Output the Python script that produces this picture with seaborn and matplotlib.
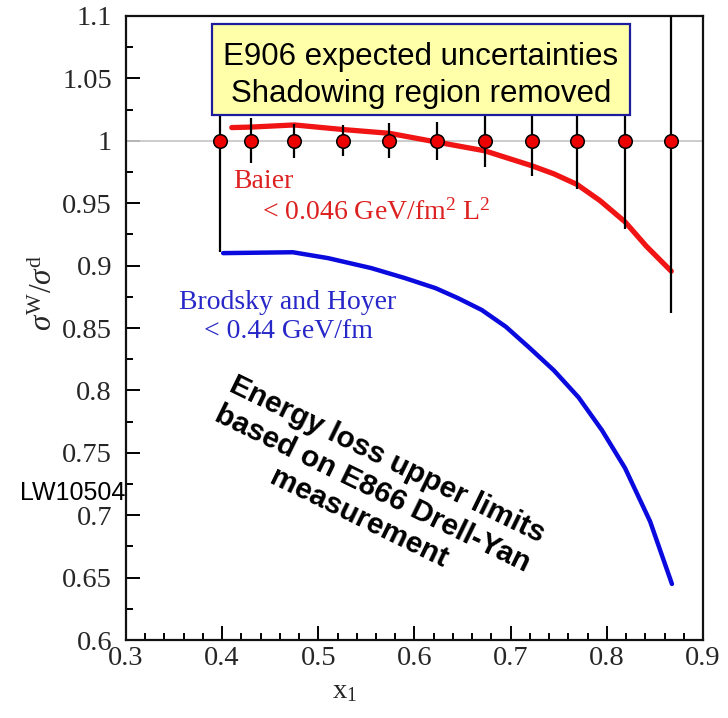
import matplotlib
matplotlib.use('Agg')
import matplotlib.pyplot as plt
import seaborn as sns
import pandas as pd
from matplotlib.ticker import MultipleLocator, FuncFormatter
from matplotlib.patches import Rectangle

# ---- data ----
x_points = [0.398, 0.430, 0.475, 0.526, 0.574, 0.623, 0.673, 0.7225, 0.769, 0.819, 0.867]
ratio_points = [1.0, 1.0, 1.0, 1.0, 1.0, 1.0, 1.0, 1.0, 1.0, 1.0, 1.0]
uncertainties = [0.089, 0.018, 0.0134, 0.0124, 0.014, 0.015, 0.021, 0.028, 0.039, 0.071, 0.138]

baier_x = [0.41, 0.43, 0.475, 0.526, 0.574, 0.623, 0.673, 0.722, 0.745, 0.769, 0.793, 0.819, 0.841, 0.867]
baier_y = [1.0106, 1.011, 1.0127, 1.009, 1.006, 0.999, 0.992, 0.980, 0.9735, 0.965, 0.952, 0.935, 0.9156, 0.8955]

bh_x = [0.401, 0.4735, 0.51, 0.555, 0.59, 0.622, 0.645, 0.670, 0.695, 0.7186, 0.745, 0.7706, 0.795, 0.8189, 0.845, 0.8677]
bh_y = [0.910, 0.9107, 0.906, 0.898, 0.890, 0.8819, 0.874, 0.8644, 0.851, 0.8348, 0.816, 0.7944, 0.768, 0.7378, 0.695, 0.6449]

x_ticks = [0.3, 0.4, 0.5, 0.6, 0.7, 0.8, 0.9]
y_ticks = [0.6, 0.65, 0.7, 0.75, 0.8, 0.85, 0.9, 0.95, 1.0, 1.05, 1.1]

sns.set_theme(style='white')
plt.rcParams['font.family'] = ['Liberation Serif', 'DejaVu Serif']
plt.rcParams['mathtext.fontset'] = 'custom'
plt.rcParams['mathtext.rm'] = 'Liberation Serif'
plt.rcParams['mathtext.it'] = 'Liberation Serif:italic'

fig = plt.figure(figsize=(7.28, 7.18), dpi=100)
ax = fig.add_axes([126/728, 1 - 640/718, 577/728, 624/718])

ax.axhline(1.0, color='#c8c8c8', lw=1.3, zorder=1)

sns.lineplot(x=baier_x, y=baier_y, ax=ax, color='#f01414', lw=3.8,
             sort=False, estimator=None, zorder=2)
sns.lineplot(x=bh_x, y=bh_y, ax=ax, color='#0a0ade', lw=3.2,
             sort=False, estimator=None, zorder=2)

ax.errorbar(x_points, ratio_points, yerr=uncertainties, fmt='none',
            ecolor='black', elinewidth=1.6, capsize=0, zorder=3)
sns.scatterplot(x=x_points, y=ratio_points, ax=ax, color='#ee0000',
                edgecolor='black', linewidth=1.1, s=95, zorder=4)

ax.set_xlim(0.3, 0.9)
ax.set_ylim(0.6, 1.1)
ax.set_xticks(x_ticks)
ax.set_yticks(y_ticks)
ax.xaxis.set_minor_locator(MultipleLocator(0.02))
ax.yaxis.set_minor_locator(MultipleLocator(0.025))
fmt = FuncFormatter(lambda v, p: '%g' % round(v, 3))
ax.xaxis.set_major_formatter(fmt)
ax.yaxis.set_major_formatter(fmt)
ax.tick_params(which='both', direction='in', top=False, right=False,
               left=True, bottom=True, colors='black', width=1.4,
               labelcolor='#262626', labelsize=20.5)
ax.tick_params(which='major', length=10)
ax.tick_params(which='minor', length=5)
ax.tick_params(axis='y', which='major', pad=10)
ax.tick_params(axis='x', which='major', pad=4)
for s in ax.spines.values():
    s.set_visible(True)
    s.set_color('#111111')
    s.set_linewidth(1.6)

# labels
ax.text(0.3795, -0.083, r'$\mathrm{x}_{1}$', transform=ax.transAxes,
        ha='center', va='center', fontsize=20.5, color='#262626')
ax.text(-0.143, 0.556, r'$\sigma^{\mathrm{W}}/\sigma^{\mathrm{d}}$', transform=ax.transAxes,
        ha='center', va='center', fontsize=22.5, rotation=90, color='#262626')
ax.text(-0.184, 0.2356, 'LW10504', transform=ax.transAxes, ha='left', va='center',
        fontsize=18, family=['Liberation Sans', 'DejaVu Sans'], color='black')

# curve annotations
ax.text(0.1854, 0.7239, 'Baier', transform=ax.transAxes, ha='left', va='baseline',
        fontsize=20, color='#dd2020')
ax.text(0.2357, 0.673, r'< 0.046 GeV/fm$^{2}$ L$^{2}$', transform=ax.transAxes,
        ha='left', va='baseline', fontsize=20, color='#dd2020')
ax.text(0.2808, 0.5308, 'Brodsky and Hoyer', transform=ax.transAxes, ha='center',
        va='baseline', fontsize=20, color='#2828c8')
ax.text(0.2808, 0.484, '< 0.44 GeV/fm', transform=ax.transAxes, ha='center',
        va='baseline', fontsize=20, color='#2828c8')

# box
ax.add_patch(Rectangle((0.1485, 0.8413), 0.8735 - 0.1485, 0.9872 - 0.8413,
                       transform=ax.transAxes, facecolor='#ffffaa',
                       edgecolor='#1c1c9c', lw=1.6, zorder=5, clip_on=False))
ax.text(0.511, 0.9215, 'E906 expected uncertainties', transform=ax.transAxes,
        ha='center', va='baseline', fontsize=22.5, color='black', zorder=6,
        family=['Liberation Sans', 'DejaVu Sans'])
ax.text(0.511, 0.8627, 'Shadowing region removed', transform=ax.transAxes,
        ha='center', va='baseline', fontsize=22.5, color='black', zorder=6,
        family=['Liberation Sans', 'DejaVu Sans'])

# rotated bold annotation
fig.text(373/728, 1 - 489/718,
         'Energy loss upper limits\nbased on E866 Drell-Yan\nmeasurement',
         ha='center', va='center', rotation=-26, rotation_mode='anchor',
         multialignment='center', fontsize=21.5, fontweight='bold',
         family=['Liberation Sans', 'DejaVu Sans'], color='black', linespacing=1.22)

ax.set_xlabel('')
ax.set_ylabel('')
fig.savefig('out.png', dpi=100, facecolor='white')
